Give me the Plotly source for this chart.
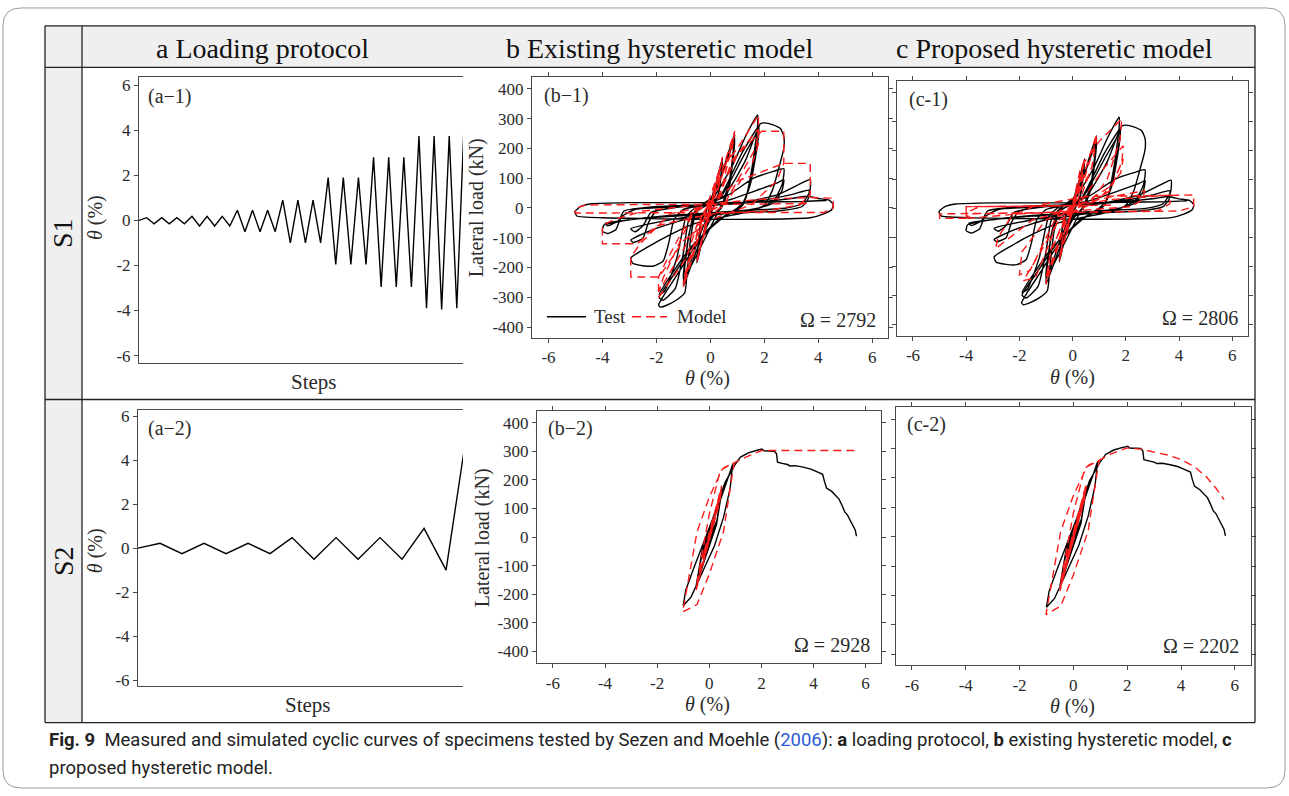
import plotly.graph_objects as go

W, H = 1289, 796

# ---------------------------------------------------------------- data
# Loading protocols: drift (%) at each reversal step
a1_drift = [0.0,
            0.12, -0.15, 0.12, -0.15, 0.12, -0.15,
            0.18, -0.25, 0.18, -0.25, 0.18, -0.25,
            0.45, -0.50, 0.45, -0.50, 0.45, -0.50,
            0.90, -1.00, 0.90, -1.00, 0.90, -1.00,
            1.90, -1.95, 1.90, -1.95, 1.90, -1.95,
            2.80, -2.95, 2.80, -2.95, 2.80, -2.95,
            3.75, -3.90, 3.75, -3.95, 3.75, -3.90,
            4.60]
a2_drift = [0.0, 0.22, -0.25, 0.22, -0.25, 0.22, -0.25,
            0.48, -0.50, 0.48, -0.50, 0.48, -0.50,
            0.90, -1.00, 5.65]

# Specimen S1: measured lateral load vs drift (theta %, kN)
s1_test = [
    (0.00, 0), (0.12, 45), (0.02, 5), (-0.15, -50), (-0.03, -5),
    (0.12, 42), (0.02, 5), (-0.15, -48), (-0.03, -5),
    (0.18, 80), (0.05, 10), (-0.25, -95), (-0.06, -10),
    (0.18, 78), (0.05, 10), (-0.25, -92), (-0.06, -8),
    (0.15, 60), (0.45, 170), (0.30, 50), (0.10, 0), (-0.20, -70), (-0.50, -185), (-0.35, -50), (-0.10, 0),
    (0.15, 55), (0.45, 160), (0.30, 45), (0.10, 0), (-0.20, -65), (-0.50, -178), (-0.35, -45), (-0.10, 0),
    (0.30, 80), (0.90, 250), (0.70, 90), (0.40, 5), (0.00, -40), (-0.50, -140), (-1.00, -262), (-0.80, -90), (-0.50, -5),
    (0.00, 30), (0.50, 130), (0.90, 238), (0.70, 70), (0.40, 0), (-0.20, -50), (-1.00, -248), (-0.75, -70), (-0.45, 0),
    (0.10, 40), (0.90, 228), (0.65, 55), (0.35, 0), (-1.00, -240), (-0.60, -20),
    (0.00, 20), (0.80, 140), (1.30, 240), (1.60, 292), (1.75, 313), (1.74, 270), (1.55, 140), (1.30, 30), (1.00, 0),
    (0.30, -40), (-0.50, -120), (-1.20, -220), (-1.70, -290), (-1.92, -326), (-1.85, -333), (-1.60, -326),
    (-1.20, -306), (-0.95, -285), (-0.85, -200), (-0.70, -80), (-0.50, -10),
    (0.30, 30), (1.20, 190), (1.80, 275), (1.75, 230), (1.50, 100), (1.20, 10), (0.50, -30), (-0.50, -110),
    (-1.40, -230), (-1.90, -300), (-1.75, -310), (-1.30, -270), (-1.00, -150), (-0.80, -40), (-0.40, 5),
    (0.40, 40), (1.20, 170), (1.80, 262), (1.72, 200), (1.45, 70), (1.10, 0), (0.30, -40), (-0.80, -140),
    (-1.90, -290), (-1.70, -280), (-1.25, -170), (-0.90, -30), (-0.50, 5),
    (0.50, 40), (1.30, 160), (1.85, 283), (2.00, 286), (2.30, 280), (2.60, 266), (2.72, 240), (2.72, 200),
    (2.55, 140), (2.30, 60), (2.00, 10), (1.50, -10), (0.50, -30), (-0.50, -50), (-1.50, -90), (-2.30, -130),
    (-2.95, -168), (-2.88, -186), (-2.50, -194), (-2.10, -195), (-1.75, -178), (-1.55, -120), (-1.35, -40),
    (-1.00, -5), (-0.30, 10), (0.60, 40), (1.60, 100), (2.30, 122), (2.72, 132), (2.66, 80), (2.35, 25),
    (1.80, 0), (0.50, -20), (-1.00, -40), (-2.20, -75), (-2.95, -108), (-2.85, -116), (-2.50, -102),
    (-2.30, -50), (-2.00, -10), (-1.00, 5), (0.50, 22), (1.80, 62), (2.50, 85), (2.72, 95), (2.65, 58),
    (2.30, 15), (1.50, -5), (0.00, -20), (-1.50, -40), (-2.95, -70), (-2.80, -80), (-2.50, -60), (-2.20, -15),
    (-1.00, 5), (1.00, 15), (2.50, 45), (3.30, 80), (3.70, 96), (3.68, 55), (3.40, 15), (2.80, 0),
    (1.00, -10), (-1.50, -25), (-3.00, -40), (-3.95, -58), (-4.00, -78), (-3.80, -86), (-3.50, -72),
    (-3.30, -30), (-2.80, -5), (-1.00, 5), (1.50, 20), (3.00, 45), (3.65, 60), (3.62, 30), (3.40, 5),
    (2.50, -10), (0.00, -20), (-2.50, -35), (-3.90, -52), (-3.80, -60), (-3.40, -42), (-3.20, -10),
    (-2.00, 5), (1.00, 15), (3.00, 32), (3.60, 40), (4.00, 32), (4.40, 26), (4.55, 12), (4.50, -5),
    (4.20, -20), (3.70, -33), (2.00, -38), (0.00, -38), (-2.00, -36), (-4.00, -33), (-4.95, -27),
    (-5.02, -12), (-4.80, 5), (-4.40, 14), (-3.00, 18), (0.00, 18), (2.00, 20), (3.50, 22), (4.30, 25),
]

# Specimen S1: existing hysteretic model
s1_model_b = [
    (0.00, 0), (0.12, 48), (0.00, 8), (-0.15, -52), (0.00, -8),
    (0.18, 85), (0.05, 15), (-0.25, -98), (-0.05, -15),
    (0.45, 172), (0.30, 110), (0.00, 10), (-0.50, -182), (-0.35, -120), (0.00, -10),
    (0.45, 165), (0.30, 105), (-0.50, -176), (-0.35, -115),
    (0.10, 30), (0.90, 258), (0.75, 190), (0.30, 20), (-0.20, -30), (-1.00, -265), (-0.85, -200), (-0.30, -20),
    (0.20, 40), (0.90, 245), (0.76, 180), (-0.20, -25), (-1.00, -252), (-0.86, -190), (-0.10, 15),
    (0.30, 120), (1.00, 200), (1.78, 312), (1.78, 215), (1.55, 150), (0.60, 20), (-0.40, -30),
    (-0.90, -170), (-1.92, -300), (-1.92, -232), (-1.70, -190), (-0.70, -20),
    (0.30, 30), (0.80, 160), (1.78, 265), (1.70, 205), (0.50, 10), (-0.50, -60), (-1.90, -280),
    (-1.75, -235), (-0.60, -10),
    (0.30, 40), (1.00, 180), (1.90, 258), (2.72, 258), (2.72, 150), (2.45, 90), (1.50, 10), (0.00, -40),
    (-1.00, -110), (-1.90, -232), (-2.95, -232), (-2.95, -165), (-2.60, -120), (-1.50, -20),
    (0.00, 10), (1.00, 90), (2.72, 150), (3.70, 150), (3.70, 45), (3.30, 10), (2.00, -10), (0.00, -20),
    (-2.00, -60), (-2.70, -120), (-4.00, -120), (-4.00, -60), (-3.60, -40), (-2.50, -10),
    (0.00, 15), (2.00, 30), (3.70, 35), (4.55, 33), (4.55, 0), (4.20, -15), (2.00, -15), (0.00, -15),
    (-2.00, -17), (-3.70, -17), (-5.00, -17), (-5.00, 0), (-4.60, 10), (-2.00, 12), (0.00, 12), (3.70, 15),
]

# Specimen S1: proposed hysteretic model
s1_model_c = [
    (0.00, 0), (0.12, 48), (0.00, 8), (-0.15, -52), (0.00, -8),
    (0.18, 85), (0.05, 15), (-0.25, -98), (-0.05, -15),
    (0.45, 172), (0.30, 95), (0.00, 5), (-0.50, -180), (-0.35, -95), (0.00, -5),
    (0.45, 165), (0.30, 90), (-0.50, -175), (-0.35, -90),
    (0.10, 20), (0.90, 255), (0.75, 150), (0.20, 10), (-0.20, -30), (-1.00, -262), (-0.85, -160), (-0.20, -10),
    (0.20, 30), (0.90, 240), (0.70, 130), (-0.20, -20), (-1.00, -245), (-0.80, -140), (0.00, 10),
    (0.30, 140), (1.00, 230), (1.85, 308), (1.78, 235), (1.30, 100), (0.60, 10), (-0.50, -40),
    (-1.20, -150), (-1.85, -250), (-1.40, -240), (-1.00, -150), (-0.50, -30),
    (0.30, 20), (1.20, 140), (1.90, 215), (1.85, 160), (1.40, 60), (0.50, 5), (-1.00, -40),
    (-1.90, -150), (-2.00, -230), (-1.60, -215), (-1.10, -120), (-0.50, -10),
    (0.50, 20), (1.50, 80), (1.90, 170), (1.80, 120), (1.00, 30), (0.00, -5), (-1.50, -40),
    (-2.90, -140), (-2.80, -100), (-2.30, -30), (-1.50, 5),
    (0.00, 10), (1.50, 40), (2.70, 60), (2.65, 30), (2.20, 5), (0.00, -10), (-2.00, -20),
    (-3.90, -35), (-3.85, -10), (-3.50, 5),
    (0.00, 8), (1.50, 30), (3.70, 45), (3.65, 15), (3.20, -10), (0.00, -15), (-3.90, -20),
    (-4.00, -35), (-4.00, 5), (-1.60, 5),
    (0.50, 40), (4.55, 45), (4.55, 5), (4.00, -10), (0.00, -15), (-5.00, -20), (-5.00, -35),
    (-4.00, -35), (-4.00, 5), (0.00, 10), (1.50, 10),
]

# Specimen S2: measured lateral load vs drift
s2_test = [
    (0.00, 0), (0.20, 60), (0.05, 5), (-0.25, -70), (-0.05, -5), (0.20, 58), (0.05, 5),
    (-0.25, -68), (-0.05, -5), (0.20, 55), (-0.25, -66), (0.00, 0),
    (0.48, 170), (0.30, 60), (0.00, -10), (-0.50, -175), (-0.30, -60), (0.00, 10),
    (0.48, 165), (0.28, 50), (-0.50, -170), (-0.28, -50), (0.48, 160), (0.28, 45), (-0.50, -168), (-0.20, -20),
    (0.20, 70), (0.60, 180), (0.90, 255), (0.80, 170), (0.55, 70), (0.20, -30), (-0.30, -130),
    (-0.70, -210), (-1.00, -240), (-0.90, -185), (-0.60, -110), (-0.20, -15), (0.20, 80), (0.60, 190),
    (1.00, 255), (1.20, 280), (1.50, 295), (1.80, 303), (2.02, 308), (2.10, 302), (2.30, 300),
    (2.50, 300), (2.58, 292), (2.62, 262), (2.80, 258), (3.00, 254), (3.10, 249), (3.30, 250),
    (3.60, 245), (3.90, 238), (4.10, 230), (4.35, 220), (4.42, 195), (4.50, 172), (4.70, 160),
    (4.85, 145), (4.98, 133), (5.10, 110), (5.20, 88), (5.30, 78), (5.40, 60), (5.50, 40),
    (5.60, 25), (5.65, 3),
]

# Specimen S2: existing hysteretic model
s2_model_b = [
    (0.00, 0), (0.20, 62), (-0.25, -72), (0.20, 60), (-0.25, -70), (0.20, 60), (-0.25, -70),
    (0.48, 180), (0.40, 130), (-0.50, -185), (-0.40, -135), (0.48, 175), (0.40, 125),
    (-0.50, -180), (-0.40, -130), (0.48, 172), (0.40, 122), (-0.50, -178), (-0.42, -130),
    (0.00, 80), (0.42, 232), (0.60, 245), (0.96, 260), (0.90, 230), (0.55, 20), (0.00, -130),
    (-0.47, -236), (-1.02, -262), (-0.75, -120), (-0.47, 18), (0.00, 140), (0.50, 238),
    (1.00, 262), (1.40, 280), (2.00, 303), (5.65, 303),
]

# Specimen S2: proposed hysteretic model
s2_model_c = [
    (0.00, 0), (0.20, 62), (-0.25, -72), (0.20, 60), (-0.25, -70), (0.20, 60), (-0.25, -70),
    (0.48, 180), (0.40, 130), (-0.50, -185), (-0.40, -135), (0.48, 175), (0.40, 125),
    (-0.50, -180), (-0.40, -130), (0.48, 172), (0.40, 122), (-0.50, -178), (-0.42, -130),
    (0.00, 80), (0.42, 232), (0.60, 245), (0.96, 260), (0.90, 230), (0.55, 20), (0.00, -130),
    (-0.47, -236), (-1.02, -265), (-0.75, -120), (-0.47, 18), (0.00, 140), (0.50, 238),
    (1.00, 262), (1.40, 282), (2.00, 302), (2.50, 298), (3.00, 288), (3.50, 278), (4.00, 263),
    (4.50, 238), (4.95, 203), (5.30, 165), (5.60, 126),
]

omega_values = {"b1": 2792, "c1": 2806, "b2": 2928, "c2": 2202}

col_titles = ["a Loading protocol", "b Existing hysteretic model", "c Proposed hysteretic model"]
row_titles = ["S1", "S2"]
caption_1 = ("<b>Fig. 9</b>  Measured and simulated cyclic curves of specimens tested by Sezen and Moehle "
             "(<span style='color:#2b5bd7'>2006</span>): <b>a</b> loading protocol, "
             "<b>b</b> existing hysteretic model, <b>c</b>")
caption_2 = "proposed hysteretic model."

drift_ticks = [-6, -4, -2, 0, 2, 4, 6]
load_ticks = [-400, -300, -200, -100, 0, 100, 200, 300, 400]

# ---------------------------------------------------------------- helpers
def fx(x):
    return x / W


def fy(y):
    return 1 - y / H


def unzip(pairs):
    return [p[0] for p in pairs], [p[1] for p in pairs]


SERIF = "Liberation Serif, Times New Roman, serif"
AX = "#4a4a4a"
TXT = "#2a2a2a"

# panel boxes in pixels (left, right, top, bottom) and data ranges
panels = {
    "a1": dict(box=(139, 463, 75, 363), xr=[0, 42.82], yr=[-6.32, 6.35]),
    "b1": dict(box=(532, 888, 75, 338), xr=[-6.61, 6.58], yr=[-437, 439]),
    "c1": dict(box=(897, 1248, 79, 336), xr=[-6.60, 6.59], yr=[-441, 437]),
    "a2": dict(box=(138, 463, 411, 689), xr=[0, 14.77], yr=[-6.27, 6.27]),
    "b2": dict(box=(537, 881, 412, 666), xr=[-6.61, 6.59], yr=[-441, 440]),
    "c2": dict(box=(896, 1251, 408, 668), xr=[-6.59, 6.60], yr=[-437, 440]),
}
order = ["a1", "b1", "c1", "a2", "b2", "c2"]

fig = go.Figure()
layout = {}

for i, key in enumerate(order, start=1):
    p = panels[key]
    l, r, t, b = p["box"]
    xa = "xaxis" if i == 1 else f"xaxis{i}"
    ya = "yaxis" if i == 1 else f"yaxis{i}"
    xref = "x" if i == 1 else f"x{i}"
    yref = "y" if i == 1 else f"y{i}"
    p["xref"], p["yref"] = xref, yref
    common = dict(showgrid=False, zeroline=False, showline=True, linecolor=AX, linewidth=1,
                  ticks="outside", ticklen=4, tickcolor=AX, tickwidth=1,
                  tickfont=dict(family=SERIF, size=17, color=TXT), fixedrange=True)
    if key.startswith("a"):
        layout[xa] = dict(common, domain=[fx(l), fx(r)], range=p["xr"], anchor=yref,
                          ticks="", showticklabels=False, mirror=True)
        layout[ya] = dict(common, domain=[fy(b), fy(t)], range=p["yr"], anchor=xref,
                          tickvals=drift_ticks, ticktext=[str(v) for v in drift_ticks],
                          mirror=False)
    else:
        layout[xa] = dict(common, domain=[fx(l), fx(r)], range=p["xr"], anchor=yref,
                          tickvals=drift_ticks, ticktext=[str(v) for v in drift_ticks],
                          mirror="ticks")
        layout[ya] = dict(common, domain=[fy(b), fy(t)], range=p["yr"], anchor=xref,
                          tickvals=load_ticks, ticktext=[str(v) for v in load_ticks],
                          mirror="ticks", showticklabels=key.startswith("b"))

BLACK = dict(color="black", width=1.4)
BLACK_SMOOTH = dict(color="black", width=1.4, shape="spline", smoothing=0.5)
RED = dict(color="#ff1a1a", width=1.4, dash="8px,5px")


def add_line(key, pairs=None, xs=None, ys=None, line=BLACK):
    if pairs is not None:
        xs, ys = unzip(pairs)
    fig.add_trace(go.Scatter(x=xs, y=ys, mode="lines", line=line, hoverinfo="skip",
                             showlegend=False, xaxis=panels[key]["xref"], yaxis=panels[key]["yref"]))


add_line("a1", xs=list(range(len(a1_drift))), ys=a1_drift)
add_line("a2", xs=list(range(len(a2_drift))), ys=a2_drift)
add_line("b1", s1_test, line=BLACK_SMOOTH)
add_line("b1", s1_model_b, line=RED)
add_line("c1", s1_test, line=BLACK_SMOOTH)
add_line("c1", s1_model_c, line=RED)
add_line("b2", s2_test)
add_line("b2", s2_model_b, line=RED)
add_line("c2", s2_test)
add_line("c2", s2_model_c, line=RED)

# ---------------------------------------------------------------- frame / table
shapes = []
TL, TR, TT, TB = 45, 1255, 23, 726
GRAY = "#efefef"
shapes.append(dict(type="rect", xref="paper", yref="paper", x0=fx(TL), x1=fx(TR), y0=fy(65), y1=fy(TT),
                   fillcolor=GRAY, line=dict(width=0), layer="below"))
shapes.append(dict(type="rect", xref="paper", yref="paper", x0=fx(TL), x1=fx(82), y0=fy(TB), y1=fy(TT),
                   fillcolor=GRAY, line=dict(width=0), layer="below"))
# rounded outer frame
R = 18
x0, x1, y0, y1 = 3, 1285, 5, 792
path = (f"M {fx(x0 + R)} {fy(y0)} L {fx(x1 - R)} {fy(y0)} Q {fx(x1)} {fy(y0)} {fx(x1)} {fy(y0 + R)} "
        f"L {fx(x1)} {fy(y1 - R)} Q {fx(x1)} {fy(y1)} {fx(x1 - R)} {fy(y1)} "
        f"L {fx(x0 + R)} {fy(y1)} Q {fx(x0)} {fy(y1)} {fx(x0)} {fy(y1 - R)} "
        f"L {fx(x0)} {fy(y0 + R)} Q {fx(x0)} {fy(y0)} {fx(x0 + R)} {fy(y0)} Z")
shapes.append(dict(type="path", xref="paper", yref="paper", path=path, line=dict(color="#9a9a9a", width=1)))


def hline(y, xa, xb, w=1.3, c="#222"):
    shapes.append(dict(type="line", xref="paper", yref="paper", x0=fx(xa), x1=fx(xb), y0=fy(y), y1=fy(y),
                       line=dict(color=c, width=w)))


def vline(x, ya, yb, w=1.3, c="#222"):
    shapes.append(dict(type="line", xref="paper", yref="paper", x0=fx(x), x1=fx(x), y0=fy(ya), y1=fy(yb),
                       line=dict(color=c, width=w)))


hline(TT, TL, TR)
hline(65, TL, TR)
hline(400, TL, TR)
hline(TB, TL, TR)
vline(TL, TT, TB)
vline(TR, TT, TB)
vline(82, TT, TB)

# legend glyphs in panel b-1
hline(316.5, 547, 586, w=1.4, c="black")
shapes.append(dict(type="line", xref="paper", yref="paper", x0=fx(632), x1=fx(667), y0=fy(316.5), y1=fy(316.5),
                   line=dict(color="#ff1a1a", width=1.4, dash="9px,5px")))

# ---------------------------------------------------------------- text
ann = []


def text(x, y, s, size, xanchor="center", angle=0, family=SERIF, color=TXT):
    ann.append(dict(x=fx(x), y=fy(y), xref="paper", yref="paper", text=s, showarrow=False,
                    xanchor=xanchor, yanchor="middle", textangle=angle,
                    font=dict(family=family, size=size, color=color)))


for cx, s in zip([262, 659, 1054], col_titles):
    text(cx, 46, s, 28, color="#111")
for cy, s in zip([232, 563], row_titles):
    text(63, cy, s, 28, angle=-90, color="#111")

theta_lbl = "<i>θ</i> (%)"
text(95, 217, theta_lbl, 20, angle=-90)
text(95, 553, theta_lbl, 20, angle=-90)
text(314, 382, "Steps", 21)
text(308, 708, "Steps", 21)
text(476, 207, "Lateral load (kN)", 20, angle=-90)
text(482, 540, "Lateral load (kN)", 20, angle=-90)
text(708, 379, theta_lbl, 20)
text(1072, 378, theta_lbl, 20)
text(708, 708, theta_lbl, 20)
text(1072, 710, theta_lbl, 20)

text(146, 94, "(a−1)", 20, xanchor="left")
text(542, 93, "(b−1)", 20, xanchor="left")
text(907, 97, "(c-1)", 20, xanchor="left")
text(146, 429, "(a−2)", 20, xanchor="left")
text(546, 429, "(b−2)", 20, xanchor="left")
text(905, 425, "(c-2)", 20, xanchor="left")

text(878, 320, f"Ω = {omega_values['b1']}", 20, xanchor="right")
text(1240, 318, f"Ω = {omega_values['c1']}", 20, xanchor="right")
text(872, 648, f"Ω = {omega_values['b2']}", 20, xanchor="right")
text(1241, 649, f"Ω = {omega_values['c2']}", 20, xanchor="right")

text(592, 316, "Test", 19, xanchor="left")
text(675, 316, "Model", 19, xanchor="left")

CAP = "Roboto, Noto Sans, sans-serif"
text(47, 744, caption_1, 18.5, xanchor="left", family=CAP, color="#222")
text(47, 772, caption_2, 18.5, xanchor="left", family=CAP, color="#222")

fig.update_layout(**layout)
fig.update_layout(width=W, height=H, margin=dict(l=0, r=0, t=0, b=0), autosize=False,
                  paper_bgcolor="white", plot_bgcolor="rgba(0,0,0,0)",
                  shapes=shapes, annotations=ann, showlegend=False)

fig.write_html("out.html", config={"displayModeBar": False})
